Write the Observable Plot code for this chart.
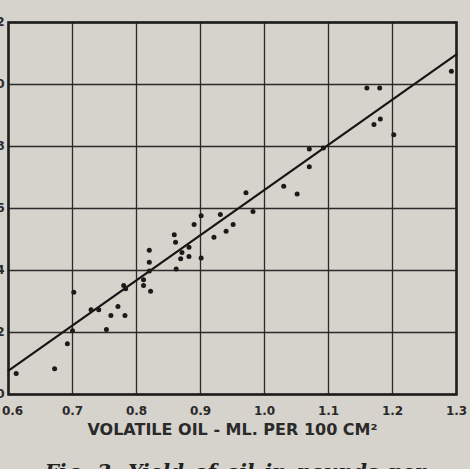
<!DOCTYPE html>
<html>
<head>
<meta charset="utf-8">
<script src="https://cdn.jsdelivr.net/npm/d3@7"></script>
<script src="https://cdn.jsdelivr.net/npm/@observablehq/plot@0.6"></script>
<style>
  html, body { margin: 0; padding: 0; background: #d6d3cc; overflow: hidden; }
  #wrap { position: relative; width: 470px; height: 469px; overflow: hidden; background: #d6d3cc; }
  #chart svg text { font-weight: bold; }
  #caption {
    position: absolute; left: 0; top: 461px; width: 470px; text-align: center;
    font-family: "DejaVu Serif", serif; font-style: italic; font-weight: bold;
    font-size: 20px; line-height: 22px; color: #222; word-spacing: 3px;
    white-space: nowrap;
  }
</style>
</head>
<body>
<div id="wrap">
  <div id="chart"></div>
  <div id="caption">Fig. 3. Yield of oil in pounds per</div>
</div>
<script>
// Volatile oil (ml per 100 cm²) for each sample
const volatileOil = [
  0.612, 0.672, 0.692, 0.700, 0.702, 0.729, 0.741, 0.753, 0.760, 0.771,
  0.782, 0.780, 0.783, 0.811, 0.811, 0.822, 0.820, 0.820, 0.820, 0.859,
  0.861, 0.862, 0.869, 0.871, 0.882, 0.882, 0.890, 0.901, 0.901, 0.921,
  0.931, 0.940, 0.951, 0.971, 0.982, 1.030, 1.051, 1.070, 1.070, 1.092,
  1.160, 1.180, 1.171, 1.181, 1.202, 1.292
];
// Yield of oil for each sample
const oilYield = [
  0.68, 0.83, 1.64, 2.06, 3.30, 2.73, 2.73, 2.10, 2.55, 2.84,
  2.55, 3.52, 3.41, 3.70, 3.52, 3.33, 3.98, 4.27, 4.65, 5.15,
  4.91, 4.05, 4.38, 4.58, 4.75, 4.45, 5.48, 5.77, 4.40, 5.07,
  5.81, 5.27, 5.48, 6.51, 5.90, 6.72, 6.47, 7.92, 7.35, 7.95,
  9.89, 9.89, 8.71, 8.89, 8.38, 10.43
];
// Fitted straight line (end values)
const fitX = [0.6, 1.3];
const fitY = [0.77, 10.97];

const xTicks = [0.6, 0.7, 0.8, 0.9, 1.0, 1.1, 1.2, 1.3];
const xTickLabels = ["0.6", "0.7", "0.8", "0.9", "1.0", "1.1", "1.2", "1.3"];
const yTicks = [0, 2, 4, 6, 8, 10, 12];
const yTickLabels = ["0", "2", "4", "6", "8", "10", "12"];
const xTitle = "VOLATILE OIL - ML. PER 100 CM\u00B2";

const points = volatileOil.map((x, i) => ({x, y: oilYield[i]}));
const fit = fitX.map((x, i) => ({x, y: fitY[i]}));

const ink = "#2a2a2a";
const sans = "'DejaVu Sans', sans-serif";
const xFmt = (d) => xTickLabels[xTicks.indexOf(d)] ?? "";
const yFmt = (d) => yTickLabels[yTicks.indexOf(d)] ?? "";

const chart = Plot.plot({
  width: 470,
  height: 450,
  marginLeft: 8,
  marginRight: 14,
  marginTop: 22,
  marginBottom: 56,
  style: {
    background: "transparent",
    fontFamily: sans,
    fontSize: "12px",
    color: ink
  },
  x: {domain: [0.6, 1.3]},
  y: {domain: [0, 12]},
  marks: [
    Plot.gridX(xTicks, {stroke: ink, strokeOpacity: 1, strokeWidth: 1.3}),
    Plot.gridY(yTicks, {stroke: ink, strokeOpacity: 1, strokeWidth: 1.3}),
    Plot.frame({stroke: "#1e1e1e", strokeWidth: 2.6}),
    Plot.line(fit, {x: "x", y: "y", stroke: "#151515", strokeWidth: 2.2}),
    Plot.dot(points, {x: "x", y: "y", r: 2.5, fill: "#1a1a1a", stroke: "none"}),
    Plot.axisX(xTicks.slice(0, 1), {tickSize: 0, tickPadding: 12, tickFormat: xFmt, textAnchor: "middle", dx: 4, label: null}),
    Plot.axisX(xTicks.slice(1), {tickSize: 0, tickPadding: 12, tickFormat: xFmt, label: null}),
    Plot.axisY(yTicks, {tickSize: 0, tickPadding: 4, tickFormat: yFmt, label: null}),
    Plot.text([xTitle], {
      frameAnchor: "bottom", dy: 40, fontSize: 16, fill: ink, fontFamily: sans
    })
  ]
});
document.getElementById("chart").appendChild(chart);
</script>
</body>
</html>
